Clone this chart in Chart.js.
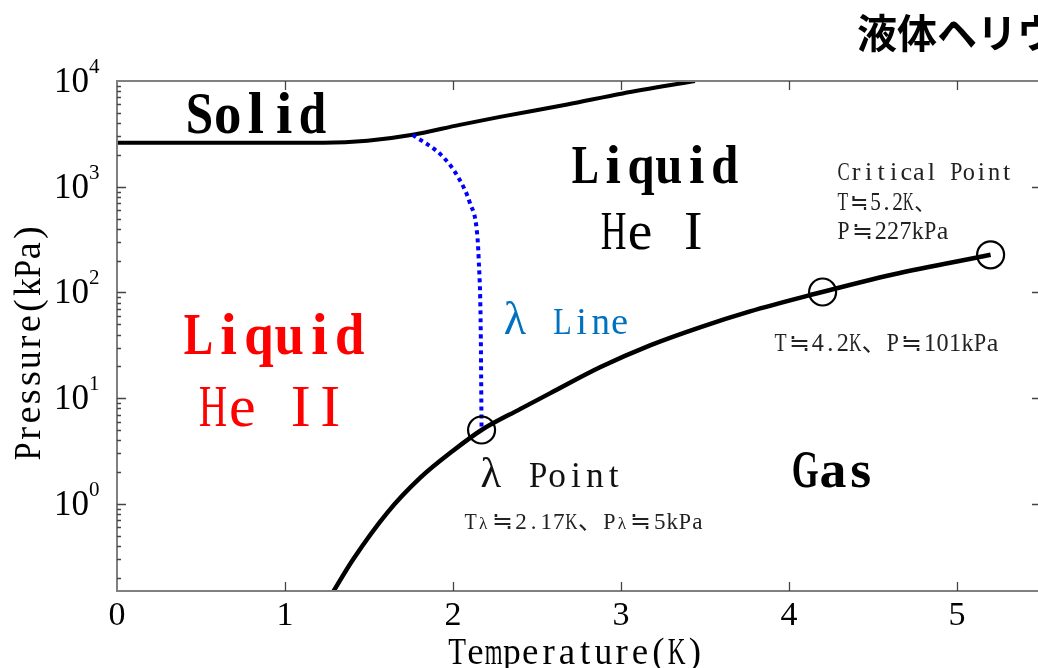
<!DOCTYPE html>
<html>
<head>
<meta charset="utf-8">
<script src="https://cdn.jsdelivr.net/npm/chart.js@4.4.1/dist/chart.umd.min.js"></script>
<style>
  html, body { margin: 0; padding: 0; background: #fff; overflow: hidden; }
  #wrap { width: 1100px; height: 668px; }
</style>
</head>
<body>
<div id="wrap"><canvas id="phase" width="1100" height="668"></canvas></div>
<script>
// axis ranges and ticks
const T_MIN = 0, T_MAX = 5.5;
const P_MIN = 0.15, P_MAX = 10000;
const T_TICKS = [0, 1, 2, 3, 4, 5];
const P_EXPONENTS = [0, 1, 2, 3, 4];

// melting curve (solid / liquid boundary), T in K, P in kPa
const MELT_T = [0, 1.23, 1.49, 1.76, 2.04, 2.28, 2.68, 3.01, 3.44];
const MELT_P = [2600, 2600, 2716, 3097, 3846, 4575, 6000, 7620, 10000];

// lambda line (He I / He II boundary)
const LAMBDA_T = [1.76, 1.94, 2.04, 2.10, 2.143, 2.153, 2.165, 2.17];
const LAMBDA_P = [3100, 1920, 1160, 706, 368, 205, 45, 5];

// saturated vapour pressure curve
const VAPOR_T = [1.25, 1.298, 1.405, 1.607, 1.804, 2.0, 2.17, 2.399, 2.577, 2.875, 3.173, 3.47, 3.768, 4.119, 4.619, 5.2];
const VAPOR_P = [0.118, 0.158, 0.298, 0.819, 1.76, 3.18, 5, 7.88, 11.1, 19.6, 31.6, 46.8, 66.2, 93.7, 148, 227];

// circled points: lambda point, boiling point at 1 atm, critical point
const MARK_T = [2.17, 4.2, 5.2];
const MARK_P = [5, 101, 227];

// text placed on the diagram (anchor in T / P units)
const LABELS = [
  { text: 'Solid',  t: 0.827, p: 3230, cap: 38, w: 138, bold: true },
  { text: 'Liquid', t: 3.202, p: 1091, cap: 36, w: 164, bold: true },
  { text: 'He I',   t: 3.193, p: 260,  cap: 36, w: 103 },
  { text: 'Liquid', t: 0.935, p: 26.0, cap: 39, w: 178, bold: true, color: '#ff0000' },
  { text: 'He II',  t: 0.920, p: 5.44, cap: 39, w: 143, color: '#ff0000' },
  { text: 'λ Line', t: 2.652, p: 40.2, cap: 25, w: 131, color: '#0070c0' },
  { text: 'λ Point', t: 2.563, p: 1.45, cap: 23, w: 149, color: '#111' },
  { text: 'Tλ≒2.17K、Pλ≒5kPa', t: 2.78, p: 0.581, cap: 15, w: 238, color: '#222', smallLambda: true },
  { text: 'T≒4.2K、P≒101kPa', t: 4.58, p: 27.8, cap: 17, w: 223, color: '#222' },
  { text: 'Critical Point', t: 4.292, p: 1164, cap: 17, w: 174, color: '#222', left: true },
  { text: 'T≒5.2K、', t: 4.292, p: 607, cap: 17, w: 97, color: '#222', left: true },
  { text: 'P≒227kPa', t: 4.292, p: 323, cap: 17, w: 110, color: '#222', left: true },
  { text: 'Gas', t: 4.262, p: 1.45, cap: 35, w: 80, bold: true }
];

const SERIF = '"Liberation Serif", "DejaVu Serif", serif';
const CJK = '"Noto Sans CJK JP", sans-serif';
const AXIS = '#808080';

const xy = (ts, ps) => ts.map((t, i) => ({ x: t, y: ps[i] }));

const capCache = {};
function capRatio(ctx, font) {
  if (!(font in capCache)) {
    ctx.font = font.replace('SIZE', '100px');
    capCache[font] = ctx.measureText('H').actualBoundingBoxAscent / 100;
  }
  return capCache[font];
}

const isWide = (c, o) => c === 'λ' ? !o.smallLambda : c.charCodeAt(0) > 0x2000;

// fixed-pitch text: every character sits in its own cell (two cells for wide ones)
function cellText(ctx, text, x, y, o) {
  const chars = [...text];
  const units = chars.map(c => isWide(c, o) ? 2 : 1);
  const n = units.reduce((s, u) => s + u, 0);
  const cell = o.w / (n - 0.12);
  const latin = (o.bold ? 'bold ' : '') + 'SIZE ' + SERIF;
  const size = o.cap / capRatio(ctx, latin);
  let cx = o.left ? -0.06 * cell : -n * cell / 2;
  ctx.save();
  ctx.translate(x, y);
  if (o.rotate) ctx.rotate(o.rotate);
  ctx.fillStyle = o.color || '#000';
  ctx.textAlign = 'center';
  ctx.textBaseline = 'alphabetic';
  chars.forEach((c, i) => {
    const span = units[i] * cell;
    let fill = 0.97;
    if (c !== 'λ' && c.charCodeAt(0) > 0x2000) {
      ctx.font = (2 * cell).toFixed(1) + 'px ' + CJK;
    } else {
      const fs = c === 'λ' ? size * (o.smallLambda ? 0.75 : 1.2) : size;
      if (c === 'λ' && !o.smallLambda) fill = 0.6;
      ctx.font = latin.replace('SIZE', fs.toFixed(1) + 'px');
    }
    if (c !== ' ') {
      const wd = ctx.measureText(c).width;
      const sx = Math.min(1, fill * span / wd);
      ctx.save();
      ctx.translate(cx + span / 2, 0);
      ctx.scale(sx, 1);
      ctx.fillText(c, 0, 0);
      ctx.restore();
    }
    cx += span;
  });
  ctx.restore();
}

const frame = {
  id: 'frame',
  afterDatasetsDraw(chart) {
    const { ctx, chartArea: a, scales: { x, y } } = chart;
    ctx.save();
    ctx.strokeStyle = AXIS;
    ctx.lineWidth = 2;
    ctx.strokeRect(a.left, a.top, a.right - a.left, a.bottom - a.top);

    ctx.strokeStyle = '#444';
    ctx.lineWidth = 1.3;
    ctx.beginPath();
    T_TICKS.forEach(t => {
      if (t === T_MIN) return;
      const px = Math.round(x.getPixelForValue(t)) + 0.5;
      ctx.moveTo(px, a.bottom); ctx.lineTo(px, a.bottom - 9);
      ctx.moveTo(px, a.top); ctx.lineTo(px, a.top + 9);
    });
    P_EXPONENTS.forEach(e => {
      for (let k = 1; k <= 9; k++) {
        const v = k * Math.pow(10, e - 1);
        if (v <= P_MIN || v > P_MAX) continue;
        const py = Math.round(y.getPixelForValue(v)) + 0.5;
        const major = k === 1;
        ctx.moveTo(a.left, py); ctx.lineTo(a.left + (major ? 9 : 4), py);
        if (major) { ctx.moveTo(a.right, py); ctx.lineTo(a.right - 9, py); }
      }
    });
    ctx.stroke();

    // tick labels
    ctx.fillStyle = '#000';
    ctx.textBaseline = 'alphabetic';
    T_TICKS.forEach(t => {
      ctx.font = '34px ' + SERIF;
      ctx.textAlign = 'center';
      ctx.fillText(String(t), x.getPixelForValue(t), 625);
    });
    P_EXPONENTS.forEach(e => {
      const py = y.getPixelForValue(Math.pow(10, e));
      ctx.font = '35px ' + SERIF;
      ctx.textAlign = 'right';
      ctx.fillText('10', 89, py + 11);
      ctx.font = '21px ' + SERIF;
      ctx.textAlign = 'left';
      ctx.fillText(String(e), 89, py - 8);
    });

    // axis titles
    cellText(ctx, 'Temperature(K)', 576, 664, { cap: 24, w: 254 });
    cellText(ctx, 'Pressure(kPa)', 40, 342, { cap: 25, w: 235, rotate: -Math.PI / 2 });

    // region and point labels
    LABELS.forEach(l => cellText(ctx, l.text, x.getPixelForValue(l.t), y.getPixelForValue(l.p), l));

    // heading
    ctx.font = 'bold 40px ' + CJK;
    ctx.textAlign = 'left';
    const asc = ctx.measureText('液').actualBoundingBoxAscent;
    ctx.fillStyle = '#000';
    ctx.fillText('液体ヘリウムの状態図', 857, 13 + asc);
    ctx.restore();
  }
};

new Chart(document.getElementById('phase'), {
  type: 'line',
  data: {
    datasets: [
      { label: 'vapour', data: xy(VAPOR_T, VAPOR_P), borderColor: '#000', borderWidth: 4.5,
        pointRadius: 0, cubicInterpolationMode: 'monotone', clip: 0, order: 3 },
      { label: 'melting', data: xy(MELT_T, MELT_P), borderColor: '#000', borderWidth: 4,
        pointRadius: 0, cubicInterpolationMode: 'monotone', clip: 0, order: 2 },
      { label: 'lambda', data: xy(LAMBDA_T, LAMBDA_P), borderColor: '#0000ff', borderWidth: 4,
        borderDash: [4, 4], borderCapStyle: 'butt', pointRadius: 0,
        cubicInterpolationMode: 'monotone', clip: 0, order: 1 },
      { label: 'points', data: xy(MARK_T, MARK_P), showLine: false, pointRadius: 13.5,
        pointBorderWidth: 2.2, pointBorderColor: '#000', pointBackgroundColor: 'rgba(0,0,0,0)', order: 0 }
    ]
  },
  options: {
    responsive: false,
    devicePixelRatio: 1,
    animation: false,
    events: [],
    layout: { padding: { left: 117, top: 81, right: 59, bottom: 77 } },
    plugins: { legend: { display: false }, tooltip: { enabled: false } },
    scales: {
      x: { type: 'linear', display: false, min: T_MIN, max: T_MAX },
      y: { type: 'logarithmic', display: false, min: P_MIN, max: P_MAX }
    }
  },
  plugins: [frame]
});
</script>
</body>
</html>
